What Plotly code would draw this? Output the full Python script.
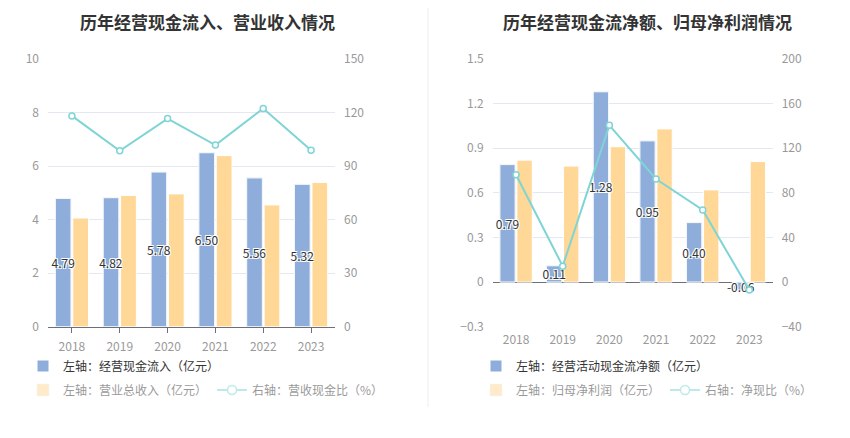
import plotly.graph_objects as go

# data
years = ['2018', '2019', '2020', '2021', '2022', '2023']

# left panel: operating cash inflow vs. revenue
cash_inflow = [4.79, 4.82, 5.78, 6.50, 5.56, 5.32]      # 亿元
revenue = [4.06, 4.90, 4.96, 6.39, 4.55, 5.39]          # 亿元
cash_ratio = [118.1, 98.6, 116.6, 101.8, 122.3, 98.8]   # %

# right panel: net operating cash flow vs. net profit
net_cash = [0.79, 0.11, 1.28, 0.95, 0.40, -0.06]        # 亿元
net_profit = [0.82, 0.78, 0.91, 1.03, 0.62, 0.81]       # 亿元
net_ratio = [96.2, 14.3, 140.5, 92.4, 64.6, -7.2]       # %

BLUE = '#8eaddb'
YELLOW = '#ffd796'
TEAL = '#7fd4d6'
GRID = '#e3e8f2'
AXIS = '#6e7079'
FONT = 'Noto Sans CJK SC'

W, H = 850, 438
PAGE_OFF = 8  # the browser page puts the plot div 8px in from the corner


def px_x(p):
    return (p - PAGE_OFF) / W


def px_y(p):
    return 1 - (p - PAGE_OFF) / H


label_shadow = '1px 1px 0 #fff, -1px -1px 0 #fff, 1px -1px 0 #fff, -1px 1px 0 #fff'


def add_panel(fig, xa, ya, ya2, leg1, leg2, bars_blue, bars_yellow, line, names):
    fig.add_trace(go.Bar(
        x=years, y=bars_blue, name=names[0], marker=dict(color=BLUE, line=dict(color='white', width=1)),
        xaxis=xa, yaxis=ya, legend=leg1, offsetgroup='a',
    ))
    fig.add_trace(go.Bar(
        x=years, y=bars_yellow, name=names[1], marker=dict(color=YELLOW, line=dict(color='white', width=1)),
        xaxis=xa, yaxis=ya, showlegend=False, offsetgroup='b',
    ))
    # transparent copy of the blue bars, drawn last so its labels sit on top
    fig.add_trace(go.Bar(
        x=years, y=bars_blue, marker=dict(color='rgba(0,0,0,0)'), showlegend=False,
        xaxis=xa, yaxis=ya, offsetgroup='a', hoverinfo='skip',
        texttemplate='%{y:.2f}', textposition='inside', insidetextanchor='middle',
        textangle=0, constraintext='none',
        insidetextfont=dict(color='#333', size=12, family=FONT, shadow=label_shadow),
    ))
    fig.add_trace(go.Scatter(
        x=years, y=line, name=names[2], mode='lines+markers',
        line=dict(color=TEAL, width=2),
        marker=dict(symbol='circle', size=6, color='white', line=dict(color=TEAL, width=1.5)),
        xaxis=xa, yaxis=ya2, showlegend=False,
    ))
    # faded legend entries of the second row
    fig.add_trace(go.Bar(x=[None], y=[None], name=names[1], marker_color=YELLOW,
                         xaxis=xa, yaxis=ya, legend=leg2, visible='legendonly'))
    fig.add_trace(go.Scatter(x=[None], y=[None], name=names[2], mode='lines+markers',
                             line=dict(color=TEAL, width=2),
                             marker=dict(symbol='circle', size=9, color='white', line=dict(color=TEAL, width=1.5)),
                             xaxis=xa, yaxis=ya2, legend=leg2, visible='legendonly'))


fig = go.Figure()
add_panel(fig, 'x', 'y', 'y2', 'legend', 'legend2', cash_inflow, revenue, cash_ratio,
          ['左轴：经营现金流入（亿元）', '左轴：营业总收入（亿元）', '右轴：营收现金比（%）'])
add_panel(fig, 'x2', 'y3', 'y4', 'legend3', 'legend4', net_cash, net_profit, net_ratio,
          ['左轴：经营活动现金流净额（亿元）', '左轴：归母净利润（亿元）', '右轴：净现比（%）'])

tick_font = dict(color='#999', size=12, family=FONT)
y_dom = [px_y(326.7), px_y(59)]
left_dom = [px_x(48), px_x(335)]
right_dom = [px_x(492.7), px_x(772.7)]
right_range = [-0.3, 1.5]
zero_pos = y_dom[0] + (0 - right_range[0]) / (right_range[1] - right_range[0]) * (y_dom[1] - y_dom[0])

x_common = dict(type='category', tickfont=tick_font, showgrid=False, ticklabelstandoff=4)
fig.update_layout(
    xaxis=dict(domain=left_dom, anchor='y', showline=True, linecolor=AXIS,
               ticks='outside', ticklen=5, tickcolor=AXIS, **x_common),
    yaxis=dict(domain=y_dom, range=[0, 10], dtick=2, gridcolor=GRID, zeroline=False,
               tickfont=tick_font, ticklabelstandoff=8),
    yaxis2=dict(overlaying='y', side='right', anchor='x', range=[0, 150], dtick=30, showgrid=False,
                zeroline=False, tickfont=tick_font, ticklabelstandoff=8),
    xaxis2=dict(domain=right_dom, anchor='y3', showline=False, ticks='', **x_common),
    # tick marks hanging from the zero line of the right panel
    xaxis3=dict(overlaying='x2', matches='x2', anchor='free', position=zero_pos, type='category',
                showline=False, showgrid=False, showticklabels=False,
                ticks='outside', ticklen=5, tickcolor=AXIS),
    yaxis3=dict(domain=y_dom, anchor='x2', range=right_range, dtick=0.3, tick0=0, gridcolor=GRID,
                zeroline=True, zerolinecolor=AXIS, zerolinewidth=1,
                tickfont=tick_font, ticklabelstandoff=8),
    yaxis4=dict(overlaying='y3', side='right', anchor='x2', range=[-40, 200], dtick=40, showgrid=False,
                zeroline=False, tickfont=tick_font, ticklabelstandoff=8),
    barmode='group', bargap=0.27, bargroupgap=0.1,
    width=W, height=H, margin=dict(l=0, r=0, t=0, b=0, autoexpand=False),
    paper_bgcolor='white', plot_bgcolor='white',
    font=dict(family=FONT, color='#333'),
)

leg_common = dict(orientation='h', xanchor='left', yanchor='middle', bgcolor='rgba(0,0,0,0)',
                  font=dict(size=12, color='#333', family=FONT), itemwidth=30, itemclick=False)
fig.update_layout(
    legend=dict(x=px_x(23), y=px_y(366), **leg_common),
    legend2=dict(x=px_x(23), y=px_y(390), **leg_common),
    legend3=dict(x=px_x(476), y=px_y(366), **leg_common),
    legend4=dict(x=px_x(476), y=px_y(390), **leg_common),
)

title_font = dict(size=17, color='#333', family=FONT, weight='bold')
fig.add_annotation(text='历年经营现金流入、营业收入情况', x=px_x(207), y=1, xref='paper', yref='paper',
                   showarrow=False, font=title_font, xanchor='center', yanchor='top', borderpad=0)
fig.add_annotation(text='历年经营现金流净额、归母净利润情况', x=px_x(647), y=1, xref='paper', yref='paper',
                   showarrow=False, font=title_font, xanchor='center', yanchor='top', borderpad=0)

# divider between the two panels
fig.add_shape(type='line', xref='paper', yref='paper', x0=px_x(428), x1=px_x(428), y0=px_y(407), y1=1,
              line=dict(color='#eeeeee', width=1))

fig.write_html("out.html")
